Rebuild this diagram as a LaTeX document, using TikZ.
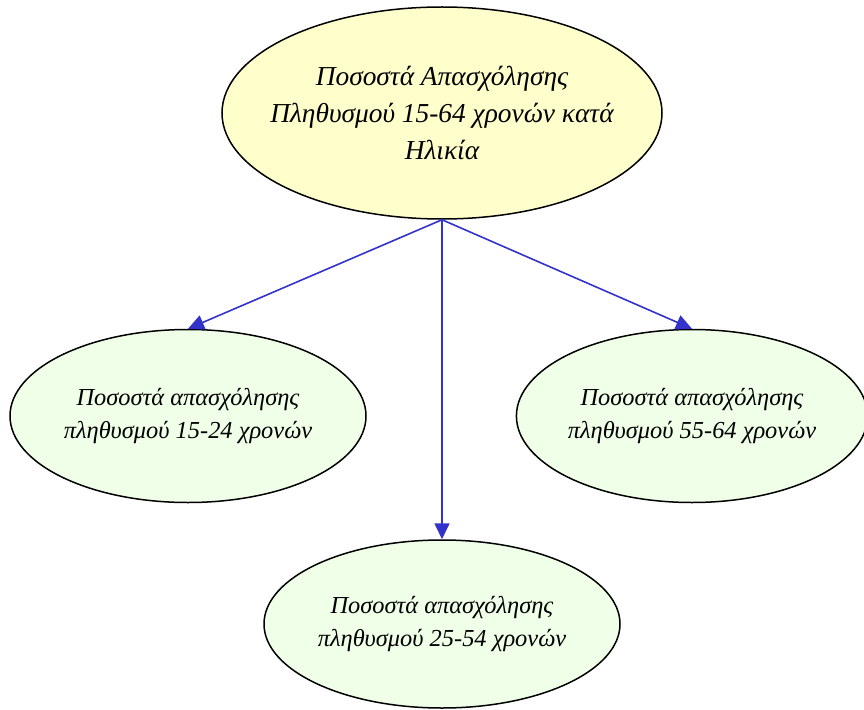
\documentclass[tikz,border=0pt]{standalone}
\usepackage{fontspec}
\setmainfont{Liberation Serif}
\usepackage{tikz}
\usetikzlibrary{arrows.meta, shapes.geometric}
\usepackage{xcolor}
\definecolor{topbg}{RGB}{255,255,204}
\definecolor{subbg}{RGB}{240,255,232}
\definecolor{edgeblue}{RGB}{51,51,204}

\begin{document}
\begin{tikzpicture}[x=1bp, y=-1bp,
  every node/.style={font=\itshape\fontsize{24.5}{34}\selectfont},
  groupnode/.style={draw, line width=1.5bp, ellipse, inner sep=0pt, align=center}]
  \useasboundingbox (0,0) rectangle (864,710);
  \node[groupnode, fill=topbg, minimum width=440bp, minimum height=212bp, inner xsep=-40bp,
        font=\itshape\fontsize{27.5}{37}\selectfont] (total) at (442,113)
        {Ποσοστά Απασχόλησης\\Πληθυσμού 15-64 χρονών κατά\\Ηλικία};
  \node[groupnode, fill=subbg, minimum width=356bp, minimum height=173bp] (young) at (188,416)
        {Ποσοστά απασχόλησης\\πληθυσμού 15-24 χρονών};
  \node[groupnode, fill=subbg, minimum width=348bp, minimum height=173bp] (old) at (692,416)
        {Ποσοστά απασχόλησης\\πληθυσμού 55-64 χρονών};
  \node[groupnode, fill=subbg, minimum width=356bp, minimum height=168bp] (mid) at (442,624)
        {Ποσοστά απασχόλησης\\πληθυσμού 25-54 χρονών};
  \draw[edgeblue, line width=1.6bp, -{Triangle[length=16bp, width=15bp]}] (total.south) -- (young.north);
  \draw[edgeblue, line width=1.6bp, -{Triangle[length=16bp, width=15bp]}] (total.south) -- (mid.north);
  \draw[edgeblue, line width=1.6bp, -{Triangle[length=16bp, width=15bp]}] (total.south) -- (old.north);
\end{tikzpicture}
\end{document}
